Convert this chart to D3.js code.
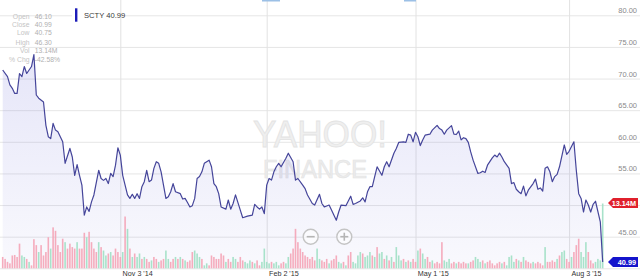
<!DOCTYPE html>
<html>
<head>
<meta charset="utf-8">
<script src="https://cdn.jsdelivr.net/npm/d3@7"></script>
<style>
  html, body { margin: 0; padding: 0; background: #fff; }
  #chart { width: 640px; height: 280px; }
  svg { display: block; font-family: "Liberation Sans", Arial, sans-serif; }
</style>
</head>
<body>
<div id="chart"></div>
<script>
/* trading day index (0 = first day shown) and close price */
const priceDay = [0, 2, 3, 4, 5, 6, 7, 8, 9, 10, 11, 12, 13, 14, 15, 17, 18, 19, 20, 21,
  22, 23, 25, 26, 28, 29, 30, 31, 32, 33, 34, 35, 36, 37, 38, 40, 41, 42, 43, 44,
  45, 46, 47, 48, 49, 50, 52, 53, 54, 55, 56, 57, 58, 59, 60, 61, 62, 63, 64, 65,
  66, 68, 69, 70, 71, 72, 74, 75, 76, 77, 78, 79, 80, 81, 82, 83, 84, 86, 87, 88,
  89, 90, 91, 93, 94, 95, 96, 97, 99, 100, 102, 104, 105, 106, 107, 108, 109, 110, 111, 112,
  113, 114, 115, 116, 118, 119, 121, 122, 123, 125, 126, 127, 129, 130, 132, 133, 134, 136, 137, 139,
  140, 141, 143, 145, 146, 147, 149, 150, 151, 152, 153, 154, 155, 156, 158, 159, 160, 161, 163, 164,
  165, 167, 168, 169, 170, 171, 172, 173, 174, 175, 176, 178, 179, 181, 182, 183, 184, 185, 187, 188,
  189, 190, 191, 192, 193, 194, 195, 196, 198, 199, 200, 201, 202, 204, 205, 206, 207, 208, 209, 211,
  212, 213, 214, 215, 216, 217, 218, 219, 221, 222, 223, 224, 225, 226, 227, 228, 229, 230, 231, 232,
  234, 235, 236, 238, 239, 240, 241, 242, 243, 244, 245, 246, 247, 249, 250];
const priceClose = [71.35, 70.3, 69.0, 68.45, 67.65, 67.65, 70.8, 70.3, 71.9, 70.8, 71.35, 71.9, 73.8, 67.4, 66.9, 66.3, 62.6, 60.8, 60.5, 62.9,
  61.85, 61.6, 60.0, 56.6, 58.95, 57.6, 54.7, 56.4, 54.7, 53.15, 48.4, 49.7, 49.0, 50.5, 51.6, 55.5, 54.2, 53.9, 54.2, 53.4,
  55.0, 54.5, 56.3, 59.05, 57.9, 54.7, 51.6, 51.05, 51.7, 51.05, 51.8, 51.05, 52.9, 53.7, 55.5, 53.7, 53.95, 55.8, 56.85, 56.6,
  55.25, 51.05, 51.3, 52.1, 53.4, 52.1, 51.8, 50.95, 51.05, 50.4, 49.7, 49.9, 51.05, 54.2, 54.5, 55.25, 56.6, 57.1, 56.05, 53.4,
  52.9, 51.8, 49.7, 49.35, 50.8, 49.35, 50.25, 51.6, 49.2, 48.0, 48.25, 48.4, 50.1, 49.7, 49.35, 49.7, 48.65, 53.15, 54.2, 53.95,
  55.25, 56.05, 56.6, 56.05, 57.4, 58.2, 56.85, 53.95, 54.2, 53.15, 52.6, 51.6, 50.25, 50.0, 51.7, 50.25, 49.7, 50.0, 49.2, 47.6,
  48.9, 50.0, 49.9, 51.4, 50.1, 50.25, 50.65, 51.15, 50.5, 52.1, 52.9, 52.9, 54.5, 56.05, 54.7, 56.05, 56.85, 56.05, 58.2, 58.95,
  59.9, 60.0, 59.9, 61.2, 61.05, 60.0, 61.5, 60.8, 59.4, 60.3, 61.05, 61.2, 61.85, 62.6, 62.1, 61.85, 61.2, 61.85, 62.55, 61.2,
  61.15, 61.7, 60.3, 60.65, 60.5, 59.9, 58.4, 57.1, 55.0, 55.1, 55.35, 55.15, 56.3, 57.45, 57.9, 57.6, 58.2, 57.6, 56.85, 55.8,
  53.4, 53.55, 52.5, 52.1, 51.8, 53.0, 51.45, 52.35, 53.4, 54.1, 52.5, 52.7, 52.2, 55.8, 56.05, 55.25, 53.7, 54.5, 54.85, 56.05,
  59.5, 58.0, 58.5, 60.0, 55.5, 51.8, 51.05, 48.9, 50.8, 50.0, 48.9, 50.1, 50.6, 47.35, 40.99];

/* daily volume in millions, one per trading day 0..250 */
const volume = [2.3, 1.9, 1.3, 1.0, 2.6, 2.7, 2.3, 5.0, 2.6, 2.3, 1.9, 1.3, 0.6, 5.9, 4.7, 3.3, 4.7, 2.6, 3.3, 6.3,
  4.0, 8.3, 7.6, 4.7, 3.3, 6.0, 5.3, 4.0, 5.0, 4.3, 4.0, 5.3, 4.0, 4.0, 7.2, 6.3, 7.4, 5.3, 4.0, 3.3,
  5.3, 4.3, 3.6, 2.6, 3.0, 3.3, 2.6, 4.0, 3.3, 2.3, 3.3, 10.5, 8.0, 4.0, 2.3, 3.0, 2.3, 3.0, 1.9, 2.3,
  1.9, 1.3, 1.6, 2.3, 1.9, 1.3, 1.6, 1.9, 3.6, 1.9, 1.3, 1.9, 2.3, 1.9, 2.3, 1.9, 1.6, 1.3, 1.6, 3.3,
  3.6, 3.0, 2.3, 1.9, 0.6, 1.0, 0.6, 2.6, 2.3, 1.9, 1.9, 3.0, 2.6, 1.3, 1.9, 1.3, 2.3, 1.9, 1.3, 2.3,
  1.6, 1.3, 1.0, 1.6, 1.3, 1.0, 1.6, 0.6, 1.3, 4.0, 1.3, 1.0, 1.3, 1.0, 1.3, 0.6, 1.0, 1.3, 1.0, 2.3,
  3.0, 4.0, 8.0, 5.3, 4.0, 3.3, 2.6, 2.3, 1.9, 2.3, 1.6, 4.0, 1.9, 1.6, 1.3, 1.9, 1.0, 1.6, 1.9, 2.6,
  1.3, 1.0, 1.3, 0.6, 2.6, 3.3, 1.3, 1.0, 2.6, 3.3, 3.0, 2.3, 2.6, 3.3, 2.6, 2.3, 4.3, 3.0, 3.3, 1.9,
  2.6, 1.6, 2.3, 1.3, 4.3, 2.6, 1.6, 1.9, 1.3, 1.6, 1.3, 1.9, 1.3, 3.6, 4.0, 3.0, 1.9, 2.3, 1.3, 1.6,
  1.0, 1.3, 1.0, 5.3, 1.6, 1.3, 1.9, 1.0, 1.3, 1.0, 1.3, 1.0, 1.3, 1.0, 1.0, 1.3, 1.6, 2.3, 1.9, 1.3,
  1.6, 1.0, 1.3, 1.6, 1.0, 0.6, 1.0, 1.3, 1.0, 1.3, 0.6, 2.3, 2.6, 1.3, 1.9, 1.6, 1.3, 2.3, 1.6, 1.3,
  1.0, 1.3, 1.0, 1.3, 1.0, 0.6, 4.3, 1.3, 1.3, 1.6, 1.3, 1.9, 2.6, 3.3, 3.6, 1.9, 1.3, 2.3, 3.3, 4.7,
  6.0, 3.3, 2.3, 5.3, 3.3, 1.6, 1.0, 1.3, 1.9, 1.6, 13.14];
/* u = up day (green), d = down day (pink) */
const volumeDir = ('dddddddduud' + 'udddudddduddddduddddudddudd' + 'd' +
  'dudu' + 'udud' + 'dddu' + 'dudu' + 'duududdudd' + 'udduuddudu' + 'dudd' + 'duuud' + 'u' +
  'udddddddu' + 'dduudddu' + 'uududdu' + 'uuudu' + 'uudduuddd' + 'dd' +
  'ddddddu' + 'uddduddduu' + 'dudduuuudu' + 'uududuudududu' + 'uu' +
  'dududduduuddudddduuuddudd' + 'ddudd' + 'uuudu' + 'ddddddudu' + 'uuudu' + 'du' + 'dddudd' +
  'ddudddduduudduddduu' + 'uddduuuuuduudddddudddddd').split('');

const endDay = 250;
const tickDays = [49, 110, 172, 236];
const tickLabels = ["Nov 3 '14", "Feb 2 '15", "May 1 '15", "Aug 3 '15"];
const priceTicks = [40, 45, 50, 55, 60, 65, 70, 75, 80];
/* 40.00 and 50.00 sit under the flags and are not shown */
const priceTickLabels = [45, 55, 60, 65, 70, 75, 80];

const infoLabels = ['Open', 'Close', 'Low', 'High', 'Vol', '% Chg'];
const infoValues = ['46.10', '40.99', '40.75', '46.30', '13.14M', '-42.58%'];
const symbol = 'SCTY';
const lastClose = 40.99;
const lastVolume = 13.14;

const W = 640, H = 280;

const drawChart = () => {
	const svg = d3.select('#chart').append('svg')
		.attr('width', W).attr('height', H);

	// スケール
	const xScale = d3.scaleLinear().domain([0, endDay]).range([2.7, 602.7]);
	const yScale = d3.scaleLinear().domain([40, 80]).range([268.3, 15.3]);
	const vScale = d3.scaleLinear().domain([0, lastVolume]).range([268.3, 203.5]);

	const defs = svg.append('defs');
	const grad = defs.append('linearGradient')
		.attr('id', 'areaGrad').attr('x1', 0).attr('y1', 0).attr('x2', 0).attr('y2', 1);
	grad.append('stop').attr('offset', '0%').attr('stop-color', '#6a6ad8').attr('stop-opacity', 0.17);
	grad.append('stop').attr('offset', '100%').attr('stop-color', '#6a6ad8').attr('stop-opacity', 0.04);

	// 横のグリッド線と価格ラベル
	const yAxis = d3.axisRight(yScale)
		.tickValues(priceTicks)
		.tickSize(W)
		.tickFormat(d3.format('.2f'));
	const gy = svg.append('g').attr('class', 'axis axis-y').call(yAxis);
	gy.select('.domain').remove();
	gy.selectAll('line').attr('stroke', '#e6e6e6');
	gy.selectAll('.tick')
		.filter(d => priceTickLabels.indexOf(d) < 0)
		.select('text').remove();
	gy.selectAll('text')
		.attr('x', 637).attr('dy', -2.5)
		.attr('text-anchor', 'end')
		.attr('fill', '#8a8a8a')
		.attr('font-size', 7.5);

	// 縦のグリッド線と日付ラベル
	const xAxis = d3.axisBottom(xScale)
		.tickValues(tickDays)
		.tickSize(268.3)
		.tickFormat((d, i) => tickLabels[i]);
	const gx = svg.append('g').attr('class', 'axis axis-x').call(xAxis);
	gx.select('.domain').remove();
	gx.selectAll('line').attr('stroke', '#e2e2e2');
	gx.selectAll('text')
		.attr('y', 276).attr('dy', 0).attr('x', 1.8)
		.attr('text-anchor', 'start')
		.attr('fill', '#333')
		.attr('font-size', 7.2);

	// ウォーターマーク
	svg.append('text').text('YAHOO!')
		.attr('x', 253).attr('y', 147)
		.attr('textLength', 134).attr('lengthAdjust', 'spacingAndGlyphs')
		.attr('font-size', 37)
		.attr('fill', '#efefef').attr('stroke', '#e3e3e3').attr('stroke-width', 0.8);
	svg.append('text').text('FINANCE')
		.attr('x', 263).attr('y', 178)
		.attr('textLength', 104).attr('lengthAdjust', 'spacingAndGlyphs')
		.attr('font-size', 25)
		.attr('fill', '#ececec').attr('stroke', '#e3e3e3').attr('stroke-width', 0.6);

	const priceData = priceDay.map((d, i) => ({ day: d, value: priceClose[i] }));

	// 面
	const area = d3.area()
		.x(d => xScale(d.day))
		.y0(yScale(40))
		.y1(d => yScale(d.value));
	svg.append('path').datum(priceData)
		.attr('fill', 'url(#areaGrad)')
		.attr('d', area);

	// 出来高
	const volData = volume.map((v, i) => ({ day: i, value: v, dir: volumeDir[i] }));
	svg.append('g').selectAll('rect').data(volData).join('rect')
		.attr('x', d => xScale(d.day) - 0.8)
		.attr('width', 1.6)
		.attr('y', d => vScale(d.value))
		.attr('height', d => vScale(0) - vScale(d.value))
		.attr('fill', d => d.dir === 'u' ? '#9edfc4' : '#f4a3b6')
		.attr('opacity', 0.9);

	// 線
	const line = d3.line()
		.x(d => xScale(d.day))
		.y(d => yScale(d.value));
	svg.append('path').datum(priceData)
		.attr('fill', 'none')
		.attr('stroke', '#45459a')
		.attr('stroke-width', 1.2)
		.attr('stroke-linejoin', 'round')
		.attr('d', line);

	// ズームボタン
	const btns = [{ cx: 310.7, sign: '-' }, { cx: 344.3, sign: '+' }];
	btns.forEach(b => {
		const g = svg.append('g').attr('transform', 'translate(' + b.cx + ',236.7)');
		g.append('circle').attr('r', 7.5)
			.attr('fill', 'rgba(255,255,255,0.6)').attr('stroke', '#c4c4c4').attr('stroke-width', 1.4);
		g.append('line').attr('x1', -4).attr('x2', 4)
			.attr('stroke', '#b5b5b5').attr('stroke-width', 1.6);
		if (b.sign === '+') {
			g.append('line').attr('y1', -4).attr('y2', 4)
				.attr('stroke', '#b5b5b5').attr('stroke-width', 1.6);
		}
	});

	// 右端のフラグ
	const flag = (yc, color, label) => {
		const h = 10;
		const g = svg.append('g').attr('transform', 'translate(0,' + yc + ')');
		g.append('path')
			.attr('d', 'M608,0 L613,' + (-h / 2) + ' L638,' + (-h / 2) + ' L638,' + (h / 2) + ' L613,' + (h / 2) + ' Z')
			.attr('fill', color);
		g.append('text').text(label)
			.attr('x', 636).attr('y', 2.7)
			.attr('text-anchor', 'end')
			.attr('fill', '#fff')
			.attr('font-weight', 'bold')
			.attr('font-size', 7.3);
	};
	flag(vScale(lastVolume) - 0.5, '#e0202c', d3.format('.2f')(lastVolume) + 'M');
	flag(yScale(lastClose), '#1414cc', d3.format('.2f')(lastClose));

	// 凡例
	svg.append('rect').attr('x', 72).attr('y', 5).attr('width', 48).attr('height', 20).attr('fill', '#fff');
	svg.append('rect').attr('x', 75).attr('y', 8.3).attr('width', 2.4).attr('height', 13.4).attr('fill', '#1c1cb8');
	svg.append('text').text(symbol + ' ' + d3.format('.2f')(lastClose))
		.attr('x', 84).attr('y', 18)
		.attr('fill', '#3a3a3a')
		.attr('font-size', 7.6);

	// 左上の情報
	const infoY = [18.5, 26.7, 34.8, 44.5, 53.2, 62];
	const info = svg.append('g').attr('font-size', 6.8);
	infoLabels.forEach((t, i) => {
		info.append('text').text(t)
			.attr('x', 29.5).attr('y', infoY[i])
			.attr('text-anchor', 'end').attr('fill', '#c4c4c4');
		info.append('text').text(infoValues[i])
			.attr('x', 34.8).attr('y', infoY[i])
			.attr('fill', '#b0b0b0');
	});

	// 上端の青い印
	svg.append('rect').attr('x', 262).attr('y', 0).attr('width', 18).attr('height', 1.5).attr('fill', '#9cc0e6');
	svg.append('rect').attr('x', 404).attr('y', 0).attr('width', 12).attr('height', 1.5).attr('fill', '#9cc0e6');
};

document.addEventListener('DOMContentLoaded', () => {
	drawChart();
});
</script>
</body>
</html>
